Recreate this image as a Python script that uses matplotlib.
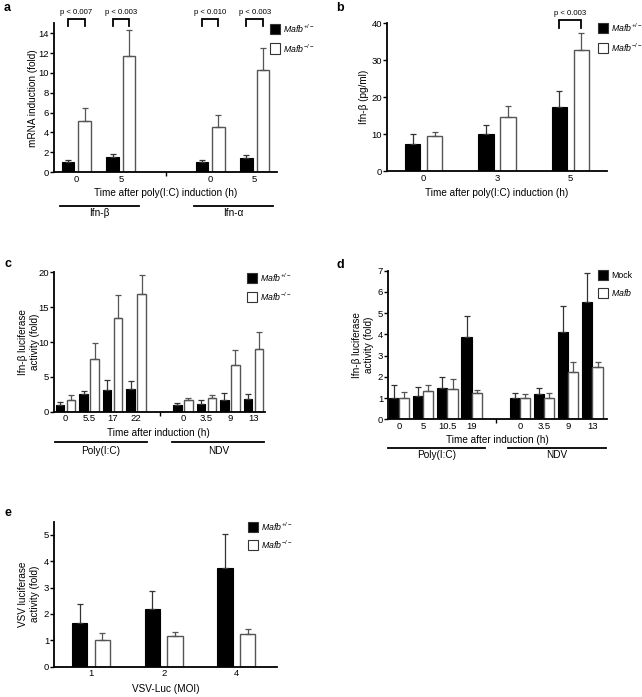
import matplotlib
matplotlib.use('Agg')
import matplotlib.pyplot as plt
import matplotlib.transforms as mtransforms
from matplotlib.patches import Rectangle
import numpy as np

plt.rcParams['font.family'] = ['Liberation Sans', 'DejaVu Sans']
plt.rcParams['mathtext.fontset'] = 'custom'
plt.rcParams['mathtext.rm'] = 'Liberation Sans'
plt.rcParams['mathtext.it'] = 'Liberation Sans:italic'

# ---- data ----
# a: mRNA induction
a_times = ['0', '5', '0', '5']
a_groups = ['Ifn-β', 'Ifn-α']
a_het = [1.0, 1.5, 1.0, 1.45]
a_het_err = [0.25, 0.3, 0.25, 0.3]
a_ko = [5.1, 11.7, 4.55, 10.3]
a_ko_err = [1.35, 2.6, 1.25, 2.2]
a_pvals = ['p < 0.007', 'p < 0.003', 'p < 0.010', 'p < 0.003']

# b: Ifn-beta ELISA
b_times = ['0', '3', '5']
b_het = [7.3, 10.2, 17.5]
b_het_err = [2.7, 2.3, 4.1]
b_ko = [9.5, 14.8, 32.9]
b_ko_err = [1.1, 2.9, 4.4]
b_pval = 'p < 0.003'

# c: luciferase, Mafb+/- vs -/-
c_times = ['0', '5.5', '17', '22', '0', '3.5', '9', '13']
c_groups = ['Poly(I:C)', 'NDV']
c_het = [1.0, 2.55, 3.05, 3.2, 1.0, 1.15, 1.7, 1.8]
c_het_err = [0.45, 0.4, 1.55, 1.2, 0.2, 0.5, 0.95, 0.8]
c_ko = [1.67, 7.5, 13.4, 16.9, 1.67, 1.9, 6.75, 9.05]
c_ko_err = [0.7, 2.3, 3.4, 2.7, 0.35, 0.45, 2.05, 2.35]

# d: luciferase, Mock vs Mafb
d_times = ['0', '5', '10.5', '19', '0', '3.5', '9', '13']
d_groups = ['Poly(I:C)', 'NDV']
d_mock = [1.0, 1.1, 1.49, 3.86, 1.0, 1.18, 4.11, 5.53]
d_mock_err = [0.63, 0.44, 0.51, 1.02, 0.26, 0.28, 1.23, 1.38]
d_mafb = [1.0, 1.32, 1.41, 1.24, 1.0, 1.02, 2.23, 2.45]
d_mafb_err = [0.3, 0.31, 0.51, 0.13, 0.18, 0.24, 0.49, 0.25]

# e: VSV luciferase
e_moi = ['1', '2', '4']
e_het = [1.67, 2.18, 3.73]
e_het_err = [0.72, 0.68, 1.31]
e_ko = [1.0, 1.15, 1.24]
e_ko_err = [0.28, 0.18, 0.2]

HET = r'$Mafb^{+/-}$'
KO = r'$Mafb^{-/-}$'

W, H = 642, 697
fig = plt.figure(figsize=(W / 100, H / 100), dpi=100)

TICK_FS = 6.8
LAB_FS = 7.2


def px_axes(x0, y0, x1, y1):
    ax = fig.add_axes([x0 / W, 1 - y1 / H, (x1 - x0) / W, (y1 - y0) / H])
    ax.px = (x0, y0, x1, y1)
    return ax


def ftext(x, y, s, **kw):
    fig.text(x / W, 1 - y / H, s, **kw)


def split_pos(n, split):
    idx = np.arange(n)
    if split:
        idx = idx + (idx >= n // 2)
    return idx.astype(float)


def style(ax, pos, labels, ylim, yticks, brk=None):
    ax.set_xlim(pos[0] - 0.5, pos[-1] + 0.5)
    ax.set_ylim(*ylim)
    ax.set_yticks(yticks)
    ax.set_xticks(pos)
    ax.set_xticklabels(labels)
    for s in ['top', 'right']:
        ax.spines[s].set_visible(False)
    for s in ['left', 'bottom']:
        ax.spines[s].set_linewidth(1.3)
    ax.tick_params(axis='y', length=3, width=1, pad=0.5, labelsize=TICK_FS)
    ax.tick_params(axis='x', length=0, pad=1.8, labelsize=TICK_FS)
    if brk is not None:
        ax.set_xticks([brk], minor=True)
        ax.tick_params(axis='x', which='minor', length=3, width=1)


def ylabel(ax, text, x_px):
    # x_px is the right edge of the rotated label
    x0, y0, x1, y1 = ax.px
    ax.set_ylabel(text, fontsize=LAB_FS, linespacing=1.3)
    ax.yaxis.set_label_coords((x_px - x0) / (x1 - x0), 0.5)


def bars(ax, pos, v1, e1, v2, e2, width, off):
    z = np.zeros(len(v1))
    ax.bar(pos - off, v1, width, color='black', edgecolor='black', lw=0.8, zorder=2)
    ax.bar(pos + off, v2, width, color='white', edgecolor='#555555', lw=1.0, zorder=2)
    ax.errorbar(pos - off, v1, yerr=[z, e1], fmt='none', ecolor='#333333',
                elinewidth=0.9, capsize=2.5, capthick=0.9, zorder=3)
    ax.errorbar(pos + off, v2, yerr=[z, e2], fmt='none', ecolor='#555555',
                elinewidth=0.9, capsize=2.5, capthick=0.9, zorder=3)


def group_lines(ax, pos, names, y_line, y_text, lo, hi):
    x0, y0, x1, y1 = ax.px
    trans = mtransforms.blended_transform_factory(ax.transData, ax.transAxes)
    n = len(pos) // 2
    for k, name in enumerate(names):
        p = pos[k * n:(k + 1) * n]
        ya = -(y_line - y1) / (y1 - y0)
        ax.plot([p[0] - lo, p[-1] + hi], [ya, ya], color='black', lw=1.3,
                transform=trans, clip_on=False)
        yt = -(y_text - y1) / (y1 - y0)
        ax.text((p[0] - lo + p[-1] + hi) / 2, yt, name, transform=trans,
                ha='center', va='center', fontsize=LAB_FS)


def legend(x, y, gap, labels):
    for k, (lab, fc) in enumerate(zip(labels, ['black', 'white'])):
        yy = y + k * gap
        fig.patches.append(Rectangle((x / W, 1 - (yy + 10) / H), 10 / W, 10 / H,
                                     facecolor=fc, edgecolor='#333333', lw=0.8,
                                     transform=fig.transFigure, figure=fig))
        ftext(x + 13, yy + 5, lab, fontsize=6.3, va='center', ha='left')


def bracket(ax, x0, x1, ytop, ylegs, ytxt, txt):
    ax.plot([x0, x0, x1, x1], [ylegs, ytop, ytop, ylegs], color='black', lw=1.3,
            clip_on=False, solid_joinstyle='miter')
    ax.text((x0 + x1) / 2, ytxt, txt, ha='center', va='center', fontsize=5.6,
            clip_on=False)


# ---- panel a ----
ax = px_axes(54, 23.4, 277, 172)
pos = split_pos(4, True)
off = 0.185
bars(ax, pos, a_het, a_het_err, a_ko, a_ko_err, 0.28, off)
style(ax, pos, a_times, (0, 15), range(0, 15, 2), brk=2)
ylabel(ax, 'mRNA induction (fold)', 38)
for p, t in zip(pos, a_pvals):
    bracket(ax, p - off, p + off, 15.4, 14.7, 16.1, t)
ftext(165.5, 193, 'Time after poly(I:C) induction (h)', fontsize=LAB_FS,
      ha='center', va='center')
group_lines(ax, pos, a_groups, 205.7, 213.5, 0.36, 0.4)
legend(270, 24, 19.5, [HET, KO])
ftext(7, 8, 'a', fontsize=9, fontweight='bold', ha='center', va='center')

# ---- panel b ----
ax = px_axes(387, 23.3, 607, 171.3)
pos = split_pos(3, False)
off = 0.15
bars(ax, pos, b_het, b_het_err, b_ko, b_ko_err, 0.21, off)
style(ax, pos, b_times, (0, 40), range(0, 41, 10))
ylabel(ax, 'Ifn-β (pg/ml)', 369)
bracket(ax, pos[2] - off, pos[2] + off, 40.9, 38.8, 42.6, b_pval)
ftext(497, 193, 'Time after poly(I:C) induction (h)', fontsize=LAB_FS,
      ha='center', va='center')
legend(598, 23, 20, [HET, KO])
ftext(340, 8, 'b', fontsize=9, fontweight='bold', ha='center', va='center')

# ---- panel c ----
ax = px_axes(54, 272.3, 265, 411.7)
pos = split_pos(8, True)
off = 0.236
bars(ax, pos, c_het, c_het_err, c_ko, c_ko_err, 0.36, off)
style(ax, pos, c_times, (0, 20), range(0, 21, 5), brk=4)
ylabel(ax, 'Ifn-β luciferase\nactivity (fold)', 40)
ftext(158, 432.7, 'Time after induction (h)', fontsize=LAB_FS,
      ha='center', va='center')
group_lines(ax, pos, c_groups, 442, 450.5, 0.45, 0.47)
legend(247, 273, 19, [HET, KO])
ftext(8, 264, 'c', fontsize=9, fontweight='bold', ha='center', va='center')

# ---- panel d ----
ax = px_axes(388, 270.7, 607, 419.3)
pos = split_pos(8, True)
off = 0.21
bars(ax, pos, d_mock, d_mock_err, d_mafb, d_mafb_err, 0.42, off)
style(ax, pos, d_times, (0, 7), range(0, 8))
ax.set_xlim(-0.46, 8.6)
ax.set_xticks([4], minor=True)
ax.tick_params(axis='x', which='minor', length=3, width=1)
ylabel(ax, 'Ifn-β luciferase\nactivity (fold)', 374)
ftext(497.5, 440, 'Time after induction (h)', fontsize=LAB_FS,
      ha='center', va='center')
group_lines(ax, pos, d_groups, 447.7, 455.5, 0.48, 0.55)
legend(598, 270, 18, ['Mock', r'$Mafb$'])
ftext(340, 265, 'd', fontsize=9, fontweight='bold', ha='center', va='center')

# ---- panel e ----
ax = px_axes(54, 521.7, 277, 666.7)
pos = split_pos(3, False)
off = 0.155
bars(ax, pos, e_het, e_het_err, e_ko, e_ko_err, 0.21, off)
style(ax, pos, e_moi, (0, 5.5), range(0, 6))
ax.set_xlim(-0.51, 2.56)
ylabel(ax, 'VSV luciferase\nactivity (fold)', 40)
ftext(165.5, 689, 'VSV-Luc (MOI)', fontsize=LAB_FS, ha='center', va='center')
legend(248, 522, 18, [HET, KO])
ftext(8, 513, 'e', fontsize=9, fontweight='bold', ha='center', va='center')

fig.savefig('out.png', dpi=100)
